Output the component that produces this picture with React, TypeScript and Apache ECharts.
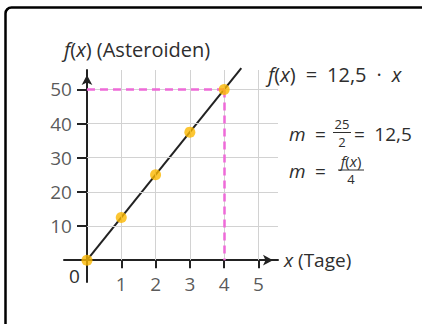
import React, { useEffect, useRef } from "react";
import * as echarts from "echarts";

// ---- data ----
const xTicks = [1, 2, 3, 4, 5];
const yTicks = [10, 20, 30, 40, 50];
const days = [0, 1, 2, 3, 4];
const asteroids = [0, 12.5, 25, 37.5, 50];
const lineX = [0, 4.5];
const lineY = [0, 56.25];
const markPoint = [4, 50];
const xRange = [-0.67, 5.57];
const yRange = [-6.4, 55.7];

const FONT = "'Open Sans', 'Noto Sans', sans-serif";
const TXT = "#2e2e2e";
const AX = "#222222";
const FS = 19;
const EN = "\u2002";

export default function App() {
  const ref = useRef<HTMLDivElement>(null);
  useEffect(() => {
    if (!ref.current) return;
    const chart = echarts.init(ref.current, undefined, { renderer: "svg" });

    const gridLines = [
      ...xTicks.map((t) => [{ coord: [t, 0] }, { coord: [t, yRange[1]] }]),
      ...yTicks.map((t) => [{ coord: [0, t] }, { coord: [xRange[1], t] }]),
    ];
    const guideLines = [
      [{ coord: [0, markPoint[1]] }, { coord: [markPoint[0], markPoint[1]] }],
      [{ coord: [markPoint[0], markPoint[1]] }, { coord: [markPoint[0], 0] }],
    ];

    const italic = { fontStyle: "italic", fontSize: FS, fontFamily: FONT, color: TXT };
    const italic20 = { fontStyle: "italic", fontSize: 20, fontFamily: FONT, color: TXT };
    const small = { fontSize: 13, fontFamily: FONT, fill: TXT, lineHeight: 13 };
    const numStyle = { fontSize: 15, fontFamily: FONT, fill: TXT, lineHeight: 15 };
    const numItalic = { fontSize: 15, fontFamily: FONT, fontStyle: "italic", color: TXT, lineHeight: 15 };
    const numPlain = { fontSize: 15, fontFamily: FONT, color: TXT, lineHeight: 15 };
    const base = { fontSize: FS, fontFamily: FONT, fill: TXT, verticalAlign: "middle" };

    const axisCommon = {
      type: "value",
      axisLine: {
        onZero: true,
        lineStyle: { color: AX, width: 2 },
        symbol: ["none", "arrow"],
        symbolSize: [8, 10],
        symbolOffset: [0, -5],
      },
      axisLabel: { show: false },
      splitLine: { show: false },
    };

    chart.setOption({
      animation: false,
      backgroundColor: "#ffffff",
      grid: { left: 64, top: 70, width: 214, height: 212, containLabel: false, outerBoundsMode: "none" },
      xAxis: {
        ...axisCommon,
        min: xRange[0],
        max: xRange[1],
        axisTick: { show: true, customValues: xTicks, length: 8, lineStyle: { color: AX, width: 2 } },
      },
      yAxis: {
        ...axisCommon,
        min: yRange[0],
        max: yRange[1],
        axisTick: { show: true, customValues: yTicks, length: 10, lineStyle: { color: AX, width: 2 } },
      },
      series: [
        {
          type: "line",
          data: [],
          silent: true,
          z: 1,
          markLine: {
            silent: true,
            symbol: ["none", "none"],
            label: { show: false },
            lineStyle: { type: "solid", color: "#d2d2d2", width: 1 },
            data: gridLines,
          },
        },
        {
          type: "line",
          data: lineX.map((x, i) => [x, lineY[i]]),
          clip: false,
          showSymbol: false,
          silent: true,
          z: 3,
          lineStyle: { color: AX, width: 2 },
        },
        {
          type: "line",
          data: [],
          silent: true,
          z: 2,
          markLine: {
            silent: true,
            symbol: ["none", "none"],
            label: { show: false },
            lineStyle: { type: [8, 5], color: "#ee6ad8", width: 2.5 },
            data: guideLines,
          },
        },
        {
          type: "scatter",
          data: days.map((d, i) => [d, asteroids[i]]),
          symbolSize: 11,
          silent: true,
          z: 5,
          itemStyle: { color: "#fbb800" },
        },
        // x tick labels
        {
          type: "scatter",
          data: xTicks.map((t) => [t, 0]),
          symbolSize: 0,
          silent: true,
          z: 4,
          label: {
            show: true,
            position: "bottom",
            distance: 14,
            formatter: (p: any) => String(p.value[0]),
            fontSize: FS,
            fontFamily: FONT,
            color: TXT,
          },
        },
        // y tick labels
        {
          type: "scatter",
          data: yTicks.map((t) => [0, t]),
          symbolSize: 0,
          silent: true,
          z: 4,
          label: {
            show: true,
            position: "left",
            distance: 15,
            formatter: (p: any) => String(p.value[1]),
            fontSize: FS,
            fontFamily: FONT,
            color: TXT,
          },
        },
      ],
      graphic: [
        {
          type: "rect",
          shape: { x: 5.5, y: 7.5, width: 440, height: 340, r: 6 },
          style: { fill: "none", stroke: "#000", lineWidth: 2.5 },
          silent: true,
        },
        {
          type: "text",
          style: { ...base, fontSize: 20, x: 64, y: 49, text: "{i|f}({i|x}) (Asteroiden)", rich: { i: italic20 } },
        },
        {
          type: "text",
          style: { ...base, x: 74.5, y: 275.5, text: "0", align: "center" },
        },
        {
          type: "text",
          style: { ...base, x: 284, y: 260, text: "{i|x} (Tage)", rich: { i: italic } },
        },
        {
          type: "text",
          style: {
            ...base, fontSize: 20, x: 268, y: 74,
            text: "{i|f}({i|x})" + EN + "=" + EN + "12,5" + EN + "·" + EN + "{i|x}",
            rich: { i: italic20 },
          },
        },
        // line 1
        { type: "text", style: { ...base, x: 289, y: 134, text: "{i|m}" + EN + "=", rich: { i: italic } } },
        { type: "text", style: { x: 342, y: 124, text: "25", align: "center", verticalAlign: "middle", ...small } },
        { type: "line", shape: { x1: 333, y1: 132.5, x2: 351, y2: 132.5 }, style: { stroke: TXT, lineWidth: 1 } },
        { type: "text", style: { x: 342, y: 141.5, text: "2", align: "center", verticalAlign: "middle", ...small } },
        { type: "text", style: { ...base, x: 354, y: 134, text: "=" + EN + "12,5" } },
        // line 2
        { type: "text", style: { ...base, x: 289, y: 171, text: "{i|m}" + EN + "=", rich: { i: italic } } },
        {
          type: "text",
          style: {
            x: 351, y: 161, text: "{i|f}{p|(}{i|x}{p|)}", align: "center", verticalAlign: "middle", ...numStyle,
            rich: { i: numItalic, p: numPlain },
          },
        },
        { type: "line", shape: { x1: 338, y1: 170, x2: 364, y2: 170 }, style: { stroke: TXT, lineWidth: 1 } },
        { type: "text", style: { x: 351, y: 178.5, text: "4", align: "center", verticalAlign: "middle", ...small } },
      ],
    });
    return () => chart.dispose();
  }, []);
  return <div ref={ref} style={{ position: "absolute", left: 0, top: 0, width: 422, height: 324 }} />;
}
